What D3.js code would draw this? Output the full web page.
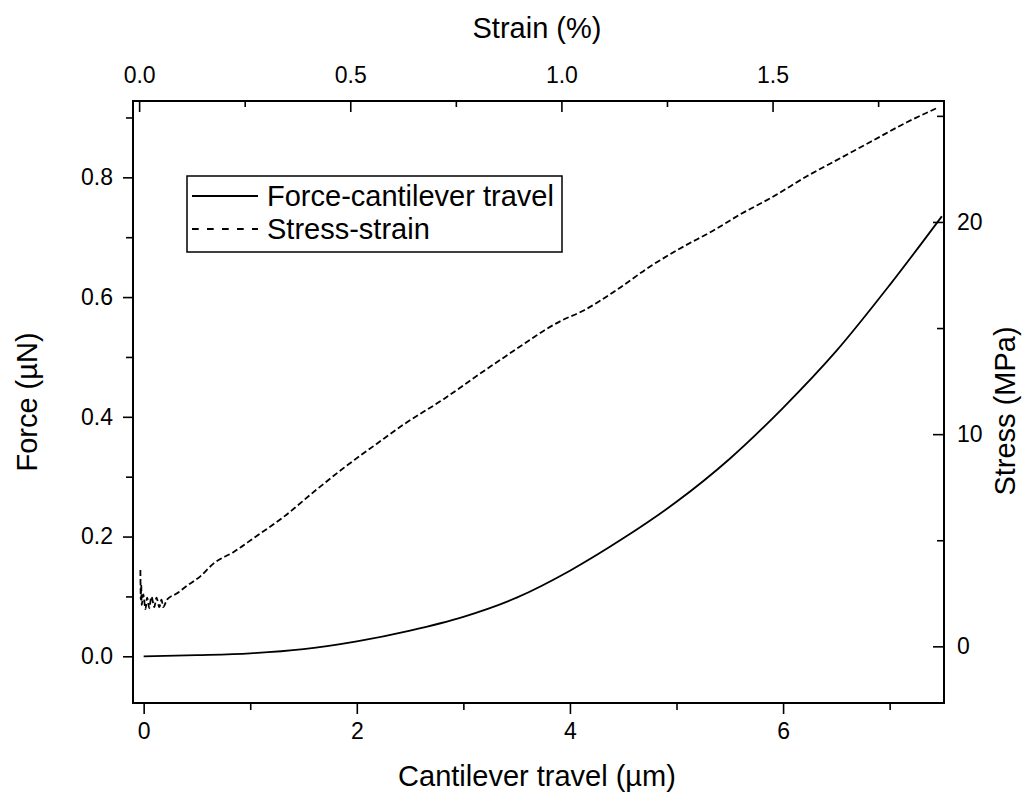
<!DOCTYPE html>
<html>
<head>
<meta charset="utf-8">
<script src="https://cdn.jsdelivr.net/npm/d3@7"></script>
<style>
  body { margin: 0; background: #fff; }
  svg text { font-family: "Liberation Sans", Arial, sans-serif; fill: #000; }
</style>
</head>
<body>
<svg id="chart" width="1026" height="794"></svg>
<script>
(function () {

  'use strict';

  // ----------- DATA --------------

  // force vs cantilever travel (bottom / left axes)
  var travel = [0, 0.5, 1, 1.5, 2, 2.5, 3, 3.5, 4, 4.5, 5, 5.5, 6, 6.5, 7, 7.49];
  var force = [0, 0.002, 0.005, 0.012, 0.025, 0.043, 0.066, 0.098, 0.143, 0.197, 0.258, 0.33, 0.415, 0.51, 0.62, 0.735];

  // stress vs strain (top / right axes)
  var strain = [0.003, 0.004, 0.005, 0.006, 0.010, 0.015, 0.019, 0.024, 0.029, 0.036, 0.041, 0.048, 0.053, 0.057, 0.066,
    0.09, 0.113, 0.145, 0.176, 0.224, 0.271, 0.342, 0.421, 0.484, 0.563, 0.626, 0.721, 0.80, 0.87, 0.926, 0.96,
    1.0, 1.05, 1.131, 1.21, 1.281, 1.36, 1.423, 1.502, 1.581, 1.66, 1.739, 1.818, 1.893];
  var stress = [3.6, 2.2, 2.9, 1.95, 2.45, 1.75, 2.3, 1.8, 2.35, 1.85, 2.3, 1.85, 2.2, 1.85, 2.2,
    2.5, 2.85, 3.3, 3.9, 4.45, 5.1, 6.1, 7.4, 8.4, 9.55, 10.45, 11.65, 12.75, 13.7, 14.45, 14.9,
    15.35, 15.8, 16.8, 17.9, 18.75, 19.6, 20.35, 21.2, 22.15, 23.0, 23.85, 24.7, 25.4];

  var travelTicks = [0, 2, 4, 6];
  var travelMinor = [1, 3, 5, 7];
  var forceTicks = [0, 0.2, 0.4, 0.6, 0.8];
  var forceMinor = [0.1, 0.3, 0.5, 0.7, 0.9];
  var strainTicks = [0, 0.5, 1.0, 1.5];
  var strainMinor = [0.25, 0.75, 1.25, 1.75];
  var stressTicks = [0, 10, 20];
  var stressMinor = [5, 15, 25];

  var legendLabels = ['Force-cantilever travel', 'Stress-strain'];

  // ----------- LAYOUT --------------

  var left = 133, top = 101, right = 944, bottom = 703;
  var svg = d3.select('#chart');

  var x = d3.scaleLinear().domain([-0.1, 7.51]).range([left, right]);
  var yL = d3.scaleLinear().domain([-0.078, 0.9275]).range([bottom, top]);
  var xT = d3.scaleLinear().domain([-0.0145, 1.906]).range([left, right]);
  var yR = d3.scaleLinear().domain([-2.67, 25.7]).range([bottom, top]);

  function styleAxis(g) {
    g.select('.domain').remove();
    g.selectAll('line').attr('stroke', '#000').attr('stroke-width', 1.6);
    g.selectAll('text').style('font-size', '23px').attr('fill', '#000');
  }

  // bottom
  svg.append('g').attr('transform', 'translate(0,' + bottom + ')')
    .call(d3.axisBottom(x).tickValues(travelTicks).tickSize(11).tickPadding(9).tickFormat(d3.format('d')))
    .call(styleAxis);
  svg.append('g').attr('transform', 'translate(0,' + bottom + ')')
    .call(d3.axisBottom(x).tickValues(travelMinor).tickSize(7).tickFormat(''))
    .call(styleAxis);

  // left
  svg.append('g').attr('transform', 'translate(' + left + ',0)')
    .call(d3.axisLeft(yL).tickValues(forceTicks).tickSize(10).tickPadding(10).tickFormat(d3.format('.1f')))
    .call(styleAxis);
  svg.append('g').attr('transform', 'translate(' + left + ',0)')
    .call(d3.axisLeft(yL).tickValues(forceMinor).tickSize(7).tickFormat(''))
    .call(styleAxis);

  // top (ticks inward)
  svg.append('g').attr('transform', 'translate(0,' + top + ')')
    .call(d3.axisTop(xT).tickValues(strainTicks).tickSize(-11).tickPadding(18).tickFormat(d3.format('.1f')))
    .call(styleAxis);
  svg.append('g').attr('transform', 'translate(0,' + top + ')')
    .call(d3.axisTop(xT).tickValues(strainMinor).tickSize(-6).tickFormat(''))
    .call(styleAxis);

  // right (ticks inward)
  svg.append('g').attr('transform', 'translate(' + right + ',0)')
    .call(d3.axisRight(yR).tickValues(stressTicks).tickSize(-11).tickPadding(13).tickFormat(d3.format('d')))
    .call(styleAxis);
  svg.append('g').attr('transform', 'translate(' + right + ',0)')
    .call(d3.axisRight(yR).tickValues(stressMinor).tickSize(-7).tickFormat(''))
    .call(styleAxis);

  // frame
  svg.append('rect')
    .attr('x', left).attr('y', top)
    .attr('width', right - left).attr('height', bottom - top)
    .attr('fill', 'none').attr('stroke', '#000').attr('stroke-width', 2);

  // ----------- CURVES --------------

  var forceLine = d3.line()
    .curve(d3.curveMonotoneX)
    .x(function (d, i) { return x(travel[i]); })
    .y(function (d, i) { return yL(force[i]); });

  var stressLine = d3.line()
    .curve(d3.curveMonotoneX)
    .x(function (d, i) { return xT(strain[i]); })
    .y(function (d, i) { return yR(stress[i]); });

  svg.append('path')
    .attr('d', forceLine(travel))
    .attr('fill', 'none').attr('stroke', '#000').attr('stroke-width', 1.8);

  svg.append('path')
    .attr('d', stressLine(strain))
    .attr('fill', 'none').attr('stroke', '#000').attr('stroke-width', 1.8)
    .attr('stroke-dasharray', '6,3');

  // ----------- TITLES --------------

  svg.append('text').attr('x', 537).attr('y', 38)
    .attr('text-anchor', 'middle').style('font-size', '29px').text('Strain (%)');
  svg.append('text').attr('x', 537).attr('y', 786)
    .attr('text-anchor', 'middle').style('font-size', '29px').text('Cantilever travel (\u00b5m)');
  svg.append('text').attr('transform', 'translate(37,402) rotate(-90)')
    .attr('text-anchor', 'middle').style('font-size', '29px').text('Force (\u00b5N)');
  svg.append('text').attr('transform', 'translate(1015,411) rotate(-90)')
    .attr('text-anchor', 'middle').style('font-size', '29px').text('Stress (MPa)');

  // ----------- LEGEND --------------

  var legend = svg.append('g');
  legend.append('rect')
    .attr('x', 187).attr('y', 176).attr('width', 375).attr('height', 76)
    .attr('fill', '#fff').attr('stroke', '#000').attr('stroke-width', 1.5);

  legendLabels.forEach(function (label, i) {
    var ly = 196 + i * 33;
    legend.append('line')
      .attr('x1', 192).attr('x2', 258).attr('y1', ly).attr('y2', ly)
      .attr('stroke', '#000').attr('stroke-width', 1.8)
      .attr('stroke-dasharray', i === 1 ? '6.7,8.3' : null);
    legend.append('text')
      .attr('x', 267).attr('y', ly + 10)
      .style('font-size', '29px').text(label);
  });

})();
</script>
</body>
</html>
